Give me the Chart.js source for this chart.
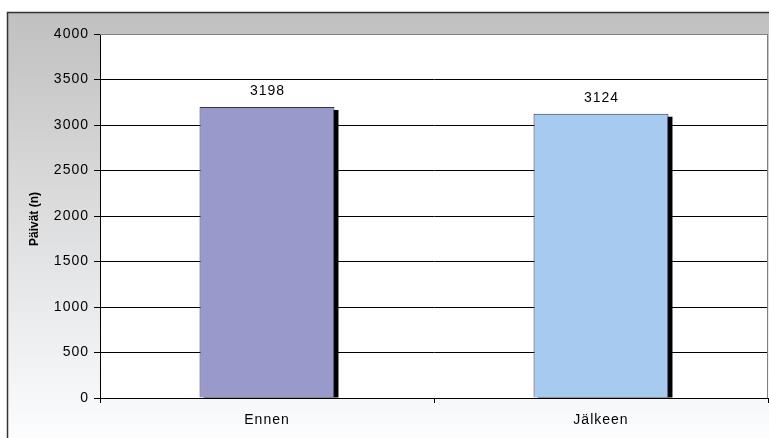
<!DOCTYPE html>
<html>
<head>
<meta charset="utf-8">
<script src="https://cdn.jsdelivr.net/npm/chart.js@4"></script>
<style>
html,body{margin:0;padding:0;background:#fff;}
canvas{display:block;}
</style>
</head>
<body>
<canvas id="c" width="769" height="438"></canvas>
<script>
const categories = ["Ennen", "Jälkeen"];
const values = [3198, 3124];
const barColors = ["#9999CC", "#A6CAF0"];
const yTicks = [0, 500, 1000, 1500, 2000, 2500, 3000, 3500, 4000];
const yTitle = "Päivät (n)";

const FONT = "'Liberation Sans', Arial, sans-serif";

function setSpacing(chart) {
  if ('letterSpacing' in chart.ctx) chart.ctx.letterSpacing = '1px';
}

const framePlugin = {
  id: 'frame',
  beforeUpdate(chart) { setSpacing(chart); },
  beforeLayout(chart) { setSpacing(chart); },
  beforeDraw(chart) {
    setSpacing(chart);
    const ctx = chart.ctx;
    const W = chart.width, H = chart.height;
    const a = chart.chartArea;
    ctx.save();
    ctx.fillStyle = '#ffffff';
    ctx.fillRect(0, 0, W, H);
    const g = ctx.createLinearGradient(0, 12, 0, H);
    g.addColorStop(0, '#c0c0c0');
    g.addColorStop(1, '#fcfdff');
    ctx.fillStyle = g;
    ctx.fillRect(7, 12, W - 7, H - 12);
    ctx.strokeStyle = '#333333';
    ctx.lineWidth = 1.5;
    ctx.beginPath();
    ctx.moveTo(7.5, H);
    ctx.lineTo(7.5, 12.5);
    ctx.lineTo(W, 12.5);
    ctx.stroke();
    ctx.fillStyle = '#ffffff';
    ctx.fillRect(a.left, a.top, a.right - a.left, a.bottom - a.top);
    ctx.restore();
  },
  beforeDatasetsDraw(chart) {
    const ctx = chart.ctx;
    const meta = chart.getDatasetMeta(0);
    ctx.save();
    ctx.fillStyle = '#000000';
    meta.data.forEach(el => {
      const w = el.width;
      ctx.fillRect(el.x - w / 2 + 4, el.y + 3, w, el.base - el.y - 3);
    });
    ctx.restore();
  },
  afterDatasetsDraw(chart) {
    const ctx = chart.ctx;
    const meta = chart.getDatasetMeta(0);
    const a = chart.chartArea;
    ctx.save();
    ctx.fillStyle = '#000000';
    ctx.font = "14px " + FONT;
    ctx.textAlign = 'center';
    ctx.textBaseline = 'bottom';
    meta.data.forEach((el, i) => {
      ctx.fillText(String(values[i]), el.x + 0.5, el.y - 9);
    });
    ctx.strokeStyle = '#808080';
    ctx.lineWidth = 1;
    ctx.beginPath();
    ctx.moveTo(a.left, a.top + 0.5);
    ctx.lineTo(a.right - 0.5, a.top + 0.5);
    ctx.lineTo(a.right - 0.5, a.bottom);
    ctx.stroke();
    ctx.restore();
  },
  afterDraw(chart) {
    const ctx = chart.ctx;
    const a = chart.chartArea;
    ctx.save();
    if ('letterSpacing' in ctx) ctx.letterSpacing = '0px';
    ctx.translate(35, (a.top + a.bottom) / 2 + 3);
    ctx.rotate(-Math.PI / 2);
    ctx.fillStyle = '#000000';
    ctx.font = "bold 12px " + FONT;
    ctx.textAlign = 'center';
    ctx.textBaseline = 'middle';
    ctx.fillText(yTitle, 0, 0);
    ctx.restore();
  }
};

new Chart(document.getElementById('c'), {
  type: 'bar',
  data: {
    labels: categories,
    datasets: [{
      data: values,
      backgroundColor: barColors,
      borderColor: '#333344',
      borderWidth: 1,
      categoryPercentage: 1,
      barPercentage: 0.404
    }]
  },
  options: {
    responsive: false,
    animation: false,
    devicePixelRatio: 1,
    layout: { padding: { left: 0, top: 34, right: 1, bottom: 0 } },
    plugins: {
      legend: { display: false },
      tooltip: { enabled: false }
    },
    scales: {
      x: {
        offset: true,
        grid: {
          offset: true,
          drawOnChartArea: false,
          drawTicks: true,
          tickLength: 5,
          tickColor: '#000000',
          color: '#000000'
        },
        border: { color: '#000000', width: 1 },
        ticks: { color: '#000000', font: { family: FONT, size: 14 }, padding: 9 },
        afterFit(s) { s.height = 40; }
      },
      y: {
        min: 0,
        max: 4000,
        afterBuildTicks(s) { s.ticks = yTicks.map(v => ({ value: v })); },
        grid: {
          color: ctx => (ctx.tick && ctx.tick.value === 4000) ? '#808080' : '#000000',
          tickColor: '#000000',
          tickLength: 6,
          lineWidth: 1
        },
        border: { color: '#000000', width: 1 },
        ticks: {
          color: '#000000',
          font: { family: FONT, size: 14 },
          padding: 5,
          callback: v => String(v)
        },
        title: { display: false, text: yTitle },
        afterFit(s) { s.width = 100; }
      }
    }
  },
  plugins: [framePlugin]
});
</script>
</body>
</html>
